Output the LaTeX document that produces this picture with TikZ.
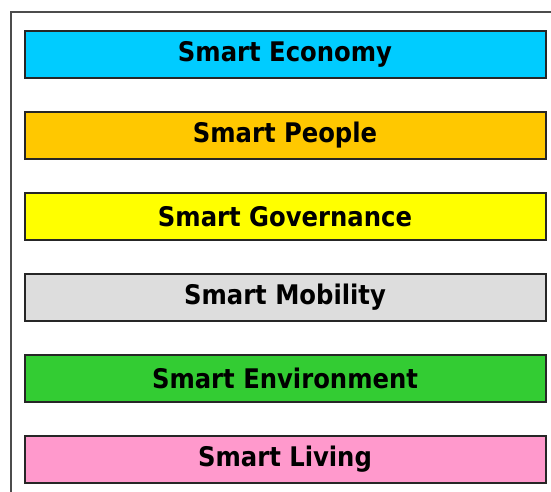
\documentclass[tikz,border=0pt]{standalone}
\usepackage{fontspec}
\setmainfont{DejaVu Sans Condensed}
\usetikzlibrary{positioning}
\definecolor{economy}{HTML}{00CCFF}
\definecolor{people}{HTML}{FFC800}
\definecolor{governance}{HTML}{FFFF00}
\definecolor{mobility}{HTML}{DDDDDD}
\definecolor{environment}{HTML}{33CC33}
\definecolor{living}{HTML}{FF99CC}
\begin{document}
\begin{tikzpicture}[font=\fontsize{27pt}{31pt}\selectfont\bfseries,
                block/.style={rectangle, draw=black!85, line width=2pt, minimum width=521pt, minimum height=47pt, inner sep=0pt},
                frame/.style={draw=black!70, line width=1.5pt}
            ]
            \useasboundingbox (0,0) rectangle (551pt,-492pt);
            \coordinate (fbl) at (11pt,-492pt);
            \coordinate (ftl) at (11pt,-12pt);
            \coordinate (ftr) at (551pt,-12pt);
            \path[frame] (fbl) -- (ftl) -- (ftr);
            \node[block, fill=economy](economy) at (285pt,-54.5pt){Smart Economy};
            \node[block, fill=people, below=32pt of economy](people){Smart People};
            \node[block, fill=governance, below=32pt of people](governance){Smart Governance};
            \node[block, fill=mobility, below=32pt of governance](mobility){Smart Mobility};
            \node[block, fill=environment, below=32pt of mobility](environment){Smart Environment};
            \node[block, fill=living, below=32pt of environment](living){Smart Living};
        \end{tikzpicture}
\end{document}
